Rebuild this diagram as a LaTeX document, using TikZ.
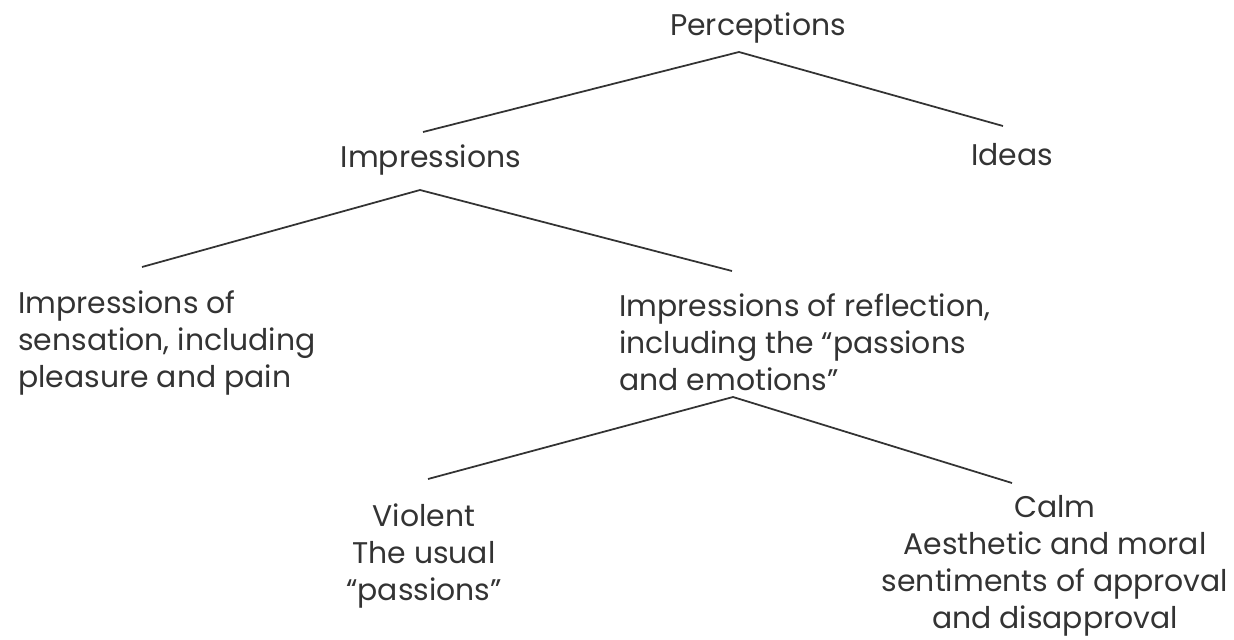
\documentclass[tikz,border=0pt]{standalone}
\usepackage{fontspec}
\setmainfont{Poppins}
\definecolor{inkgray}{HTML}{333333}
\tikzset{
  lbl/.style={inner sep=0pt, text=inkgray, font=\fontsize{17}{21}\selectfont},
  branch/.style={draw=inkgray, line width=1pt}
}
\begin{document}
\begin{tikzpicture}[x=0.02cm,y=-0.02cm]
\useasboundingbox (0,0) rectangle (1234,639);

\node[lbl,anchor=base] (perc) at (758,35) {Perceptions};
\node[lbl,anchor=base] (impr) at (431,167) {Impressions};
\node[lbl,anchor=base] (ideas) at (1012,165) {Ideas};

\node[lbl,anchor=base west,align=left] (sens) at (18,387)
  {Impressions of\\sensation, including\\pleasure and pain};
\node[lbl,anchor=base west,align=left] (refl) at (619,390)
  {Impressions of reflection,\\including the “passions\\and emotions”};

\node[lbl,anchor=base,align=center] (viol) at (424,600)
  {Violent\\The usual\\“passions”};
\node[lbl,anchor=base,align=center] (calm) at (1055,628)
  {Calm\\Aesthetic and moral\\sentiments of approval\\and disapproval};

\coordinate (perc-fork) at (739,52);
\coordinate (impr-top) at (423,132);
\coordinate (ideas-top) at (1003,126);
\coordinate (impr-fork) at (420,190);
\coordinate (sens-top) at (142,267);
\coordinate (refl-top) at (732,271);
\coordinate (refl-fork) at (733,397);
\coordinate (viol-top) at (428,479);
\coordinate (calm-top) at (1012,483);

\draw[branch] (impr-top) -- (perc-fork) -- (ideas-top);
\draw[branch] (sens-top) -- (impr-fork) -- (refl-top);
\draw[branch] (viol-top) -- (refl-fork) -- (calm-top);
\end{tikzpicture}
\end{document}
